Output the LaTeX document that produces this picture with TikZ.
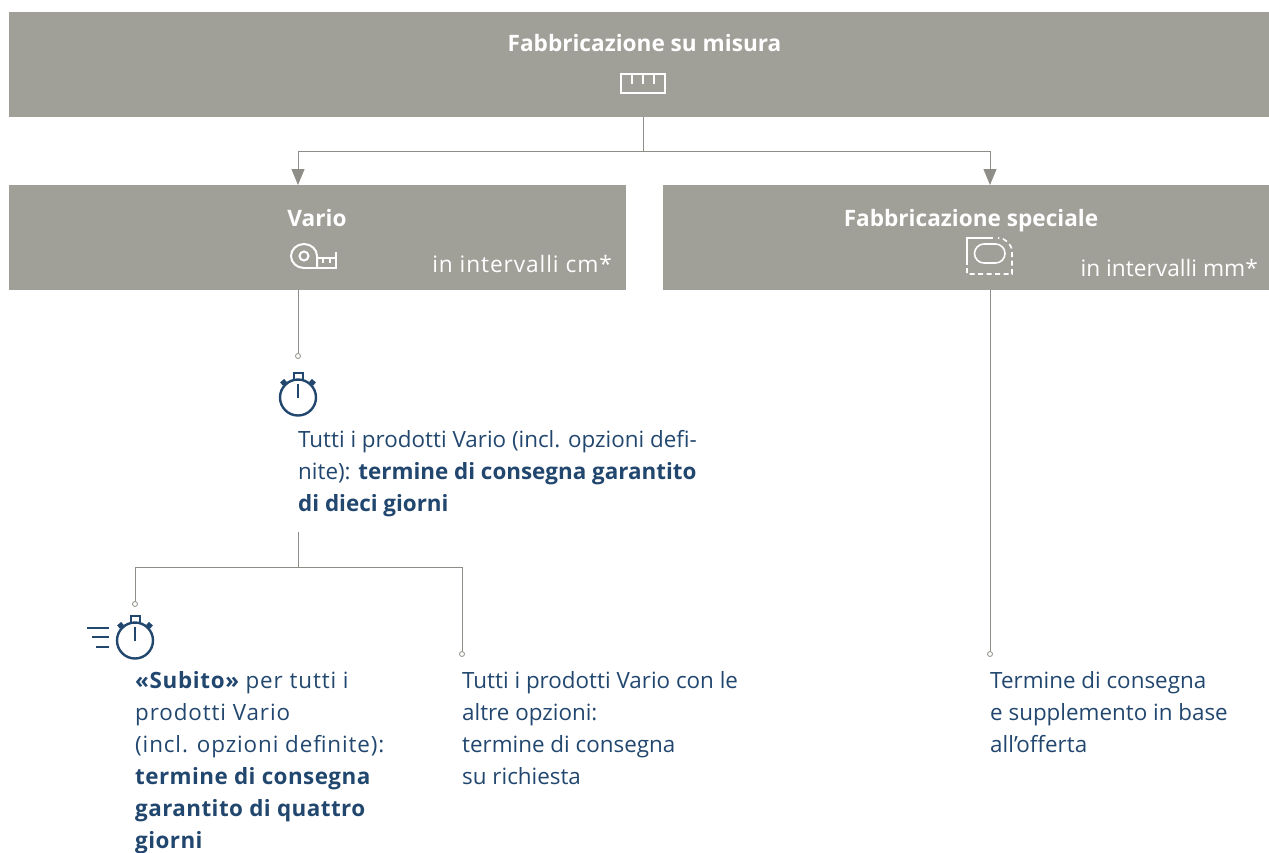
\documentclass[tikz,border=0pt]{standalone}
\usepackage{fontspec}
\setmainfont{Open Sans}
\usetikzlibrary{arrows.meta}
\definecolor{boxgray}{HTML}{A09F98}
\definecolor{linegray}{HTML}{8E8D87}
\definecolor{textblue}{HTML}{22476F}
\newcommand{\widereg}[1]{{\addfontfeature{LetterSpace=4}#1}}
\newcommand{\widebold}[1]{\textbf{\addfontfeature{LetterSpace=2}#1}}
\tikzset{
  box/.style={fill=boxgray,draw=none,inner sep=0pt,anchor=north west},
  boxtitle/.style={text=white,inner sep=0pt,anchor=base,font=\fontsize{22.6}{26}\selectfont\bfseries},
  boxnote/.style={text=white,inner sep=0pt,anchor=base east,font=\fontsize{22.7}{26}\selectfont},
  infotext/.style={text=textblue,inner sep=0pt,anchor=north west,align=left,font=\fontsize{22.4}{32}\selectfont},
  conn/.style={draw=linegray,line width=0.9pt},
  connarrow/.style={conn,-{Triangle[length=16pt,width=13pt]}},
  enddot/.style={circle,draw=linegray,fill=white,line width=0.8pt,inner sep=0pt,minimum size=5pt},
  iconw/.style={draw=white,line width=2pt},
  iconb/.style={draw=textblue,line width=2.4pt},
  pics/watch/.style={code={
    \draw[iconb] (0,0) circle [radius=18];
    \draw[iconb] (0,-14) -- (0,0);
    \draw[iconb,line width=2pt] (-4.5,-18) rectangle (4.5,-25);
    \draw[iconb,line width=4.2pt] (-16.5,-13.5) -- (-12.5,-17);
    \draw[iconb,line width=4.2pt] (16.5,-13.5) -- (12.5,-17);
  }}
}
\begin{document}
\begin{tikzpicture}[x=1pt,y=-1pt]
\useasboundingbox (0,0) rectangle (1269,852);
% grey boxes
\node[box,minimum width=1260pt,minimum height=105pt] (top) at (9,12) {};
\node[box,minimum width=617pt,minimum height=105pt] (vario) at (9,185) {};
\node[box,minimum width=606pt,minimum height=105pt] (special) at (663,185) {};
\node[boxtitle] (toptitle) at (644.5,51) {Fabbricazione su misura};
\node[boxtitle] (variotitle) at (317,226) {Vario};
\node[boxtitle] (specialtitle) at (971,226) {Fabbricazione speciale};
\node[boxnote] (varionote) at (612,272) {\addfontfeature{LetterSpace=4}in intervalli cm*};
\node[boxnote] (specialnote) at (1258,276) {in intervalli mm*};
% end dots
\node[enddot] (dotvario) at (298,356) {};
\node[enddot] (dotsubito) at (135,604) {};
\node[enddot] (dotother) at (462,654) {};
\node[enddot] (dotspecial) at (990,654) {};
% texts
\node[infotext] (tutti) at (298,430) {Tutti i prodotti Vario (incl. opzioni defi-\\nite): \textbf{termine di consegna garantito}\\\textbf{di dieci giorni}};
\node[infotext] (subito) at (135,671) {\textbf{\addfontfeature{LetterSpace=3}«Subito»} \widereg{per tutti i}\\\widereg{prodotti Vario}\\\widereg{(incl. opzioni definite):}\\\widebold{termine di consegna}\\\widebold{garantito di quattro}\\\widebold{giorni}};
\node[infotext] (other) at (462,671) {Tutti i prodotti Vario con le\\altre opzioni:\\termine di consegna\\su richiesta};
\node[infotext] (offer) at (990,671) {Termine di consegna\\e supplemento in base\\all’offerta};
% connectors
\coordinate (topdown) at (643.5,151);
\coordinate (split) at (298,567);
\draw[conn] (top.south -| topdown) -- (topdown);
\draw[connarrow] (topdown) -| (vario.north -| dotvario);
\draw[connarrow] (topdown) -| (special.north -| dotspecial);
\draw[conn] (vario.south -| dotvario) -- (dotvario);
\draw[conn] (split |- 0,532) -- (split);
\draw[conn] (split) -| (dotsubito);
\draw[conn] (split) -| (dotother);
\draw[conn] (special.south -| dotspecial) -- (dotspecial);
% ruler
\draw[iconw] (621,74) rectangle (665,92.5);
\foreach \x in {632,643,654}\draw[iconw] (\x,74) -- (\x,84);
% tape measure
\draw[iconw] (304,268) arc (90:360:13 and 12) -- (317,268);
\draw[iconw] (304,256) circle [radius=4.5];
\draw[iconw] (304,268) -- (336,268) -- (336,252);
\draw[iconw] (317,258) -- (336,258);
\foreach \x in {323,330}\draw[iconw,line width=1.5pt] (\x,258) -- (\x,263);
% special shape
\draw[iconw,line width=1.6pt] (967,265) -- (967,238) -- (993,238);
\draw[iconw,line width=1.6pt,dash pattern=on 5pt off 3.5pt] (967,268) -- (967,274) -- (1012,274) -- (1012,252) arc (0:-90:14);
\draw[iconw,line width=1.6pt] (984,244) -- (995.5,244) arc (-90:90:9.5) -- (984,263) arc (90:270:9.5) -- cycle;
% watches
\pic at (298,397.5) {watch};
\pic at (135,640.5) {watch};
\foreach \xa/\ya in {87/628,92/637,96/647}\draw[iconb,line width=2pt] (\xa,\ya) -- (109,\ya);
\end{tikzpicture}
\end{document}
